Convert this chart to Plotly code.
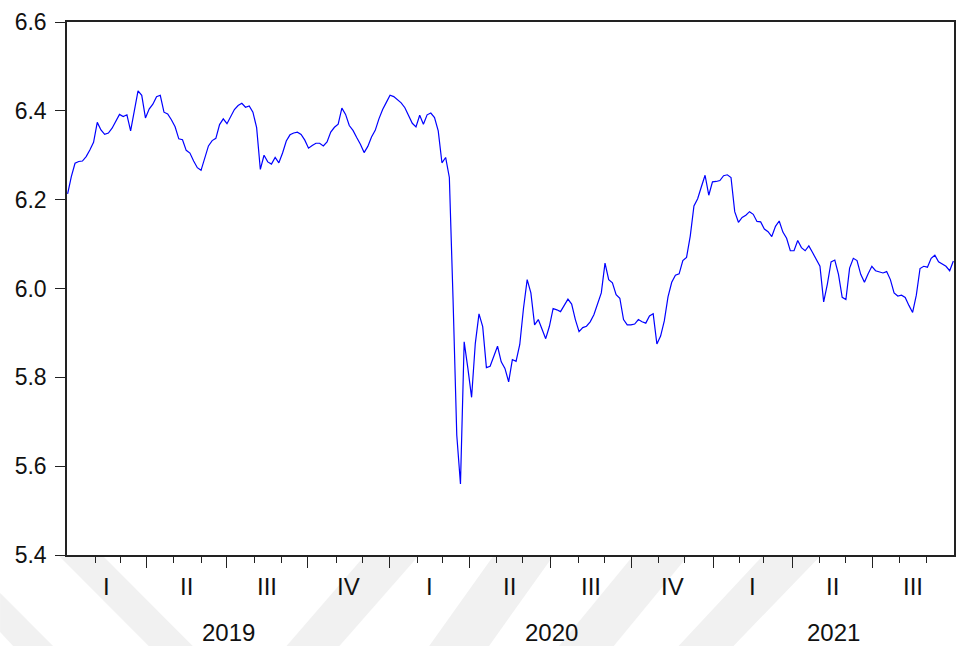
import numpy as np
import pandas as pd
import plotly.graph_objects as go

# ---------------- data ----------------
start_date = "2019-01-01"
end_date = "2021-09-30"
sample_step = 3  # values read every 3rd business day

values = [
    6.213, 6.252, 6.282, 6.286, 6.287, 6.297, 6.312, 6.329, 6.374, 6.357,
    6.347, 6.350, 6.361, 6.378, 6.392, 6.387, 6.391, 6.355, 6.401, 6.445,
    6.435, 6.384, 6.404, 6.415, 6.432, 6.435, 6.397, 6.393, 6.380, 6.364,
    6.337, 6.335, 6.311, 6.305, 6.287, 6.272, 6.266, 6.295, 6.321, 6.333,
    6.338, 6.369, 6.382, 6.371, 6.387, 6.403, 6.412, 6.417, 6.408, 6.411,
    6.397, 6.362, 6.268, 6.300, 6.285, 6.280, 6.295, 6.283, 6.305, 6.332,
    6.346, 6.350, 6.352, 6.347, 6.334, 6.316, 6.322, 6.327, 6.327, 6.321,
    6.330, 6.352, 6.363, 6.370, 6.406, 6.392, 6.367, 6.356, 6.340, 6.325,
    6.306, 6.320, 6.341, 6.356, 6.382, 6.403, 6.419, 6.435, 6.432, 6.425,
    6.418, 6.407, 6.390, 6.372, 6.364, 6.390, 6.370, 6.391, 6.395, 6.385,
    6.355, 6.283, 6.295, 6.250, 5.975, 5.670, 5.560, 5.880, 5.820, 5.755,
    5.876, 5.943, 5.914, 5.822, 5.825, 5.850, 5.870, 5.835, 5.820, 5.790,
    5.840, 5.836, 5.874, 5.955, 6.020, 5.990, 5.918, 5.930, 5.910, 5.887,
    5.915, 5.955, 5.952, 5.948, 5.962, 5.976, 5.965, 5.930, 5.903, 5.912,
    5.915, 5.925, 5.941, 5.966, 5.990, 6.057, 6.020, 6.013, 5.986, 5.978,
    5.930, 5.918, 5.918, 5.920, 5.930, 5.925, 5.922, 5.938, 5.943, 5.875,
    5.893, 5.927, 5.981, 6.014, 6.030, 6.033, 6.063, 6.070, 6.118, 6.186,
    6.202, 6.229, 6.255, 6.210, 6.240, 6.241, 6.243, 6.254, 6.256, 6.250,
    6.173, 6.149, 6.160, 6.165, 6.173, 6.167, 6.151, 6.150, 6.134, 6.128,
    6.117, 6.140, 6.152, 6.127, 6.113, 6.085, 6.085, 6.108, 6.092, 6.085,
    6.096, 6.081, 6.064, 6.050, 5.970, 6.010, 6.060, 6.064, 6.032, 5.980,
    5.975, 6.046, 6.068, 6.063, 6.032, 6.014, 6.033, 6.050, 6.040, 6.037,
    6.035, 6.038, 6.020, 5.990, 5.983, 5.985, 5.980, 5.962, 5.946, 5.985,
    6.045, 6.050, 6.048, 6.068, 6.075, 6.060, 6.054, 6.050, 6.040, 6.062,
]

quarter_labels = ["I", "II", "III", "IV"]
y_ticks = [5.4, 5.6, 5.8, 6.0, 6.2, 6.4, 6.6]

# ---------------- calendar (observation axis, business days) ----------------
bdays = pd.bdate_range(start_date, end_date)
obs_dates = bdays[::sample_step]
n = min(len(obs_dates), len(values))
obs_dates = obs_dates[:n]
x_obs = bdays.get_indexer(obs_dates)

months = pd.date_range(start_date, end_date, freq="MS")
month_idx = [int(bdays.searchsorted(m)) for m in months]
major_ticks = [i - 0.5 for m, i in zip(months, month_idx) if m.month in (1, 4, 7, 10) and i > 0]
minor_ticks = [i - 0.5 for m, i in zip(months, month_idx) if m.month not in (1, 4, 7, 10) and i > 0]

FONT = "Liberation Sans, Arial, sans-serif"

fig = go.Figure()
fig.add_trace(go.Scatter(
    x=x_obs, y=values[:n], mode="lines",
    line=dict(color="#0000ff", width=1.2),
    showlegend=False, hoverinfo="skip",
))

annotations = []
# quarter labels
quarters = pd.period_range(start_date, end_date, freq="Q")
for q in quarters:
    s = int(bdays.searchsorted(q.start_time))
    e = int(bdays.searchsorted(q.end_time.normalize() + pd.Timedelta(days=1)))
    mid = (s + e) / 2 - 0.5
    annotations.append(dict(x=mid, y=-0.06, xref="x", yref="paper", text=quarter_labels[q.quarter - 1],
                            showarrow=False, font=dict(family=FONT, size=24, color="#111"),
                            xanchor="center", yanchor="middle"))
years = sorted(set(bdays.year))
for yr in years:
    s = int(bdays.searchsorted(pd.Timestamp(yr, 1, 1)))
    e = int(bdays.searchsorted(pd.Timestamp(yr + 1, 1, 1)))
    mid = (s + e) / 2 - 0.5
    annotations.append(dict(x=mid, y=-0.145, xref="x", yref="paper", text=str(yr),
                            showarrow=False, font=dict(family=FONT, size=24, color="#111"),
                            xanchor="center", yanchor="middle"))

# faint watermark bands below the axis (pixel geometry of the page)
W, H = 956, 646
L, R, T, B = 67, 0, 22, 91
pw, ph = W - L - R, H - T - B
bands = [
    [(58, 555), (102, 555), (193, 646), (149, 646)],
    [(0, 593), (53, 646), (13, 646), (0, 632)],
    [(366, 555), (420, 555), (340, 646), (287, 646)],
    [(495, 555), (555, 555), (490, 646), (430, 646)],
    [(635, 555), (690, 555), (615, 646), (560, 646)],
    [(765, 555), (823, 555), (735, 646), (680, 646)],
]
shapes = []
for poly in bands:
    pts = [((px - L) / pw, (H - B - py) / ph) for px, py in poly]
    path = "M " + " L ".join(f"{a:.4f},{b:.4f}" for a, b in pts) + " Z"
    shapes.append(dict(type="path", path=path, xref="paper", yref="paper",
                       fillcolor="#f1f1f1", line=dict(width=0), layer="below"))

fig.update_layout(
    width=W, height=H,
    margin=dict(l=L, r=R, t=T, b=B),
    paper_bgcolor="white", plot_bgcolor="white",
    annotations=annotations, shapes=shapes,
    font=dict(family=FONT, size=23, color="#111"),
)
fig.update_xaxes(
    range=[-0.5, len(bdays) - 0.5],
    showgrid=False, zeroline=False,
    showline=True, linecolor="#222", linewidth=1.5, mirror=True,
    tickmode="array", tickvals=major_ticks, ticks="outside", ticklen=11, tickwidth=1, tickcolor="#222",
    showticklabels=False,
    minor=dict(tickmode="array", tickvals=minor_ticks, ticks="outside", ticklen=6, tickwidth=1, tickcolor="#222"),
)
fig.update_yaxes(
    range=[5.4, 6.6],
    showgrid=False, zeroline=False,
    showline=True, linecolor="#222", linewidth=1.5, mirror=True,
    tickmode="array", tickvals=y_ticks, ticktext=[f"{v:.1f}" for v in y_ticks],
    ticks="outside", ticklen=10, tickwidth=1, tickcolor="#222",
    ticklabelstandoff=4,
    tickfont=dict(family=FONT, size=23, color="#111"),
)

fig.write_html("out.html")
